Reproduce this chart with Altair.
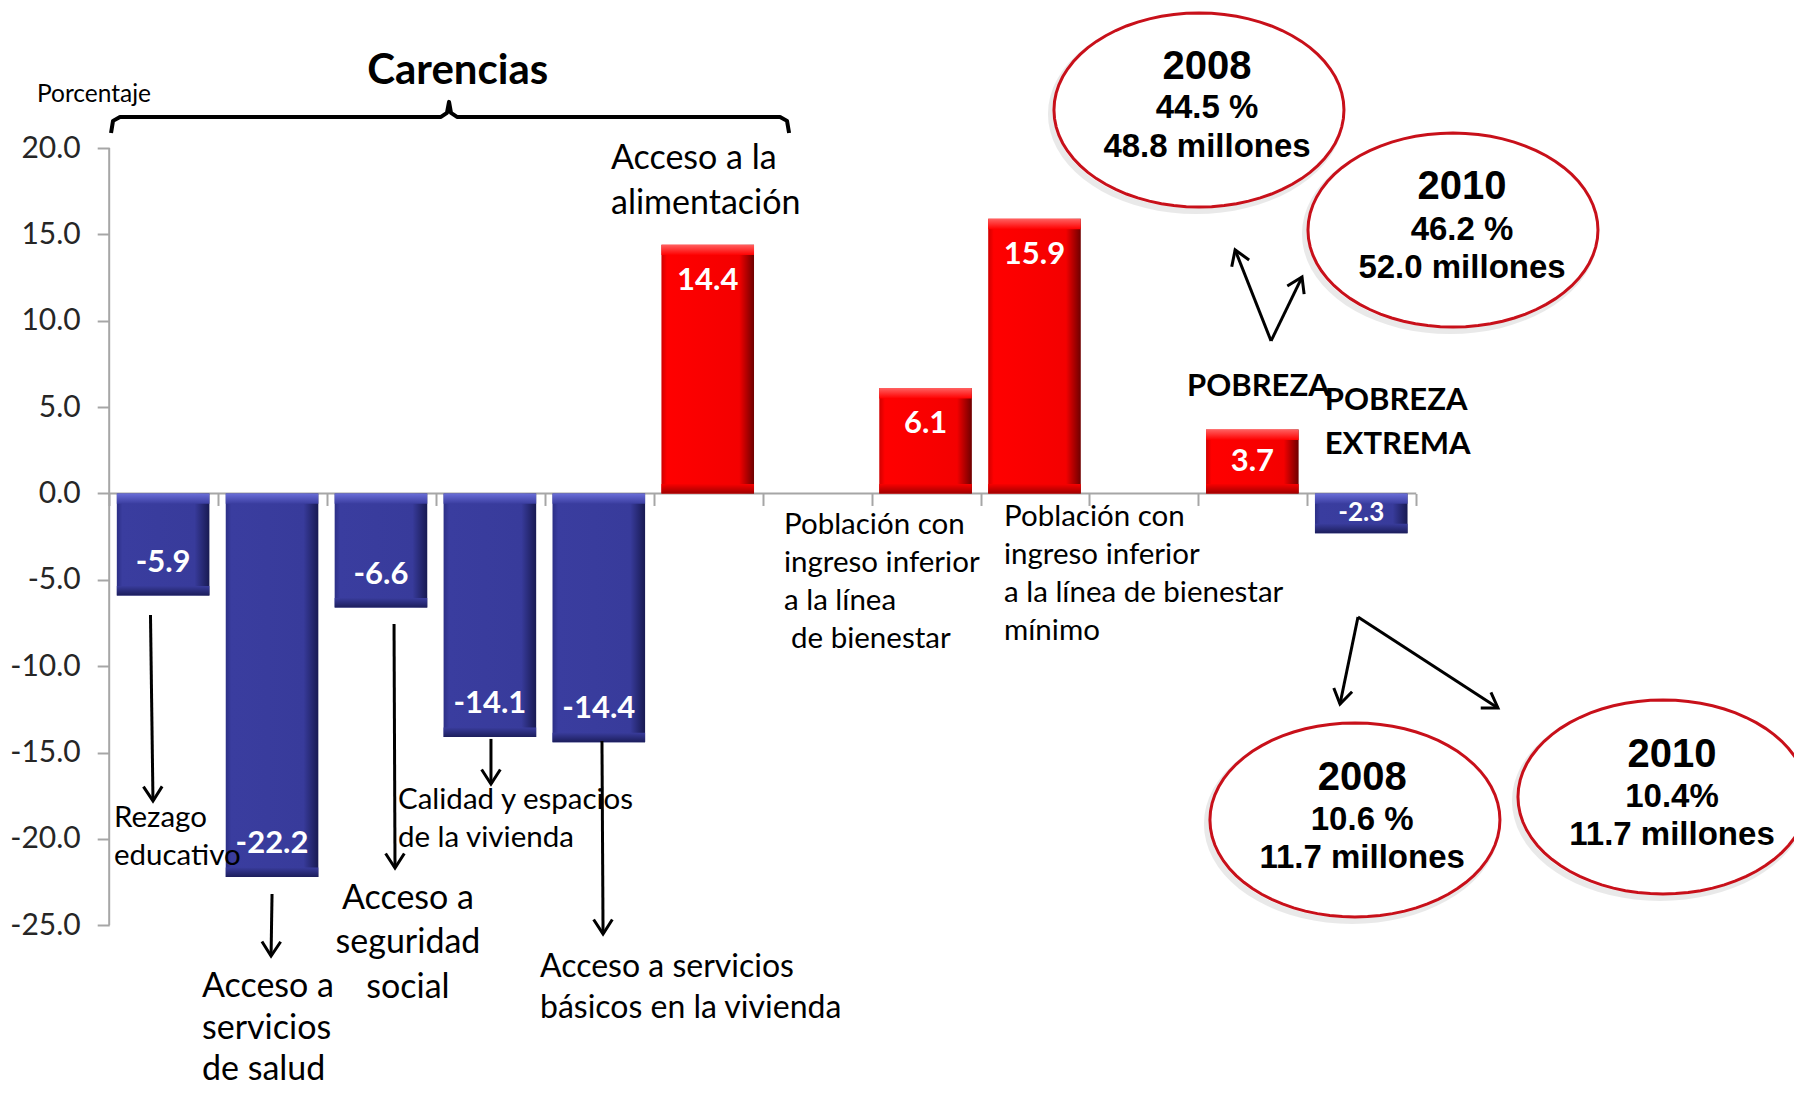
import math
import altair as alt
import pandas as pd

# ---------------- data ----------------
categories = [
    "Rezago educativo", "Acceso a servicios de salud", "Acceso a seguridad social",
    "Calidad y espacios de la vivienda", "Acceso a servicios básicos en la vivienda",
    "Acceso a la alimentación", "",
    "Población con ingreso inferior a la línea de bienestar",
    "Población con ingreso inferior a la línea de bienestar mínimo", "",
    "Pobreza", "Pobreza extrema",
]
values = [-5.9, -22.2, -6.6, -14.1, -14.4, 14.4, None, 6.1, 15.9, None, 3.7, -2.3]
y_ticks = [-25, -20, -15, -10, -5, 0, 5, 10, 15, 20]

# annotation texts (text, x in category units, y in percent units)
small_left = [
    ("Rezago", 0.044, -18.79), ("educativo", 0.044, -20.99),
    ("Calidad y espacios", 2.651, -17.74), ("de la vivienda", 2.651, -19.94),
    ("Población con", 6.195, -1.82), ("ingreso inferior", 6.195, -4.02),
    ("a la línea", 6.195, -6.22), ("de bienestar", 6.26, -8.42),
    ("Población con", 8.215, -1.36), ("ingreso inferior", 8.215, -3.56),
    ("a la línea de bienestar", 8.215, -5.76), ("mínimo", 8.215, -7.96),
]
big_left = [
    ("Acceso a", 0.852, -28.55), ("servicios", 0.852, -31.0), ("de salud", 0.852, -33.38),
    ("Acceso a la", 4.607, 19.35), ("alimentación", 4.607, 16.75),
]
mid_left = [("Acceso a servicios", 3.955, -27.41), ("básicos en la vivienda", 3.955, -29.79)]
big_center = [("Acceso a", 2.743, -23.48), ("seguridad", 2.743, -26.02), ("social", 2.743, -28.63)]
bold_left = [("POBREZA", 9.895, 6.17), ("POBREZA", 11.16, 5.36), ("EXTREMA", 11.16, 2.81)]
title_text = [("Carencias", 3.20, 24.46)]
unit_text = [("Porcentaje", -0.663, 23.07)]

ellipse_centers = [(10.005, 22.20), (12.337, 15.25), (11.437, -18.90), (14.265, -17.57)]
ellipse_years = [("2008", 10.079, 24.69), ("2010", 12.420, 17.74), ("2008", 11.503, -16.47), ("2010", 14.348, -15.14)]
ellipse_lines = [
    ("44.5 %", 10.079, 22.32), ("48.8 millones", 10.079, 20.06),
    ("46.2 %", 12.420, 15.25), ("52.0 millones", 12.420, 13.06),
    ("10.6 %", 11.503, -18.90), ("11.7 millones", 11.503, -21.10),
    ("10.4%", 14.348, -17.57), ("11.7 millones", 14.348, -19.77),
]

arrows = [  # x, y, x2, y2 (head at x2, y2)
    (0.379, -7.03, 0.402, -17.80),
    (1.495, -23.19, 1.486, -26.78),
    (2.615, -7.56, 2.624, -21.68),
    (3.505, -14.21, 3.505, -16.82),
    (4.524, -14.33, 4.534, -25.50),
    (10.667, 8.83, 10.337, 14.10),
    (10.667, 8.83, 10.951, 12.53),
    (11.465, -7.15, 11.300, -12.19),
    (11.465, -7.15, 12.750, -12.42),
]
brace_x = [0.017, 0.035, 0.099, 3.046, 3.101, 3.120, 3.138, 3.193, 6.159, 6.223, 6.242]
brace_y = [20.87, 21.57, 21.80, 21.80, 22.03, 22.67, 22.03, 21.80, 21.80, 21.57, 20.87]

# ---------------- layout ----------------
W, H = 1786, 1078
XMIN, XMAX = -0.9291, 15.468
YMAX = 28.105
PXY = 777.3 / 45.0
YMIN = YMAX - H / PXY
PXX = W / (XMAX - XMIN)

SX = alt.Scale(domain=[XMIN, XMAX], nice=False, zero=False)
SY = alt.Scale(domain=[YMIN, YMAX], nice=False, zero=False)
XAX = alt.Axis(values=list(range(13)), labels=False, domain=False, grid=False,
               tickSize=12, tickWidth=2, tickColor="#a6a6a6",
               offset=-(0 - YMIN) * PXY, title=None)
YAX = alt.Axis(values=y_ticks, format=".1f", labelExpr="replace(datum.label, '\u2212', '-')",
               domain=False, grid=False,
               tickSize=12, tickWidth=2, tickColor="#a6a6a6",
               offset=-(0 - XMIN) * PXX, labelFont="Lato", labelFontSize=30,
               labelColor="#262626", labelPadding=17, title=None)


def X(f):
    return alt.X(f, type="quantitative", scale=SX, axis=XAX)


def Y(f):
    return alt.Y(f, type="quantitative", scale=SY, axis=YAX)


def hgrad(c0, c1, c2, c3):
    return alt.Gradient(gradient="linear", x1=0, x2=1, y1=0, y2=0, stops=[
        alt.GradientStop(offset=0, color=c0), alt.GradientStop(offset=0.06, color=c1),
        alt.GradientStop(offset=0.84, color=c2), alt.GradientStop(offset=1, color=c3)])


def vgrad(c_top, c_bot):
    return alt.Gradient(gradient="linear", x1=0, x2=0, y1=0, y2=1, stops=[
        alt.GradientStop(offset=0, color=c_top), alt.GradientStop(offset=1, color=c_bot)])


bars = pd.DataFrame({"idx": range(len(values)), "category": categories, "value": values}).dropna()
bars["x0"] = bars["idx"] + 0.07
bars["x1"] = bars["idx"] + 0.92
bars["xc"] = bars["idx"] + 0.495

base = alt.Chart(bars).transform_calculate(zero="0")
neg = base.transform_filter("datum.value < 0")
pos = base.transform_filter("datum.value > 0")

blue = neg.mark_rect(color=hgrad("#2c2f86", "#3a3d9f", "#383b9b", "#181a52")).encode(
    x=X("x0"), x2="x1", y=Y("value"), y2="zero:Q")
red = pos.mark_rect(color=hgrad("#d00000", "#ff0000", "#f40000", "#6e0000")).encode(
    x=X("x0"), x2="x1", y=Y("value"), y2="zero:Q")

blue_top = neg.transform_calculate(tb="-0.6").mark_rect(color=vgrad("#6a6ed8", "#3a3d9f")).encode(
    x=X("x0"), x2="x1", y=Y("zero"), y2="tb:Q")
blue_bot = neg.transform_calculate(bb="datum.value + 0.55").mark_rect(color=vgrad("#393c9c", "#1c1e5c")).encode(
    x=X("x0"), x2="x1", y=Y("bb"), y2="value:Q")
red_top = pos.transform_calculate(tb="datum.value - 0.6").mark_rect(color=vgrad("#ff6060", "#ff0000")).encode(
    x=X("x0"), x2="x1", y=Y("value"), y2="tb:Q")
red_bot = pos.transform_calculate(bb="0.55").mark_rect(color=vgrad("#f80000", "#a00000")).encode(
    x=X("x0"), x2="x1", y=Y("bb"), y2="zero:Q")

vlabels = base.transform_calculate(
    ly="datum.value > 0 ? max(datum.value - 2.1, datum.value / 2) : min(datum.value + 1.9, datum.value / 2)",
    lab="replace(format(datum.value, '.1f'), '\u2212', '-')",
).mark_text(font="Lato", fontWeight="bold", color="white", align="center", baseline="middle").encode(
    x=X("xc"), y=Y("ly"), text="lab:N",
    size=alt.condition("abs(datum.value) < 3", alt.value(26), alt.value(31)))

# axis lines
axis_df = pd.DataFrame({"x": [0, 0], "y": [-25, 0], "x2": [0, 12], "y2": [20, 0]})
axis_lines = alt.Chart(axis_df).mark_rule(color="#a6a6a6", strokeWidth=2).encode(
    x=X("x"), y=Y("y"), x2="x2", y2="y2")

# arrows
arr = pd.DataFrame(arrows, columns=["x", "y", "x2", "y2"])
arr["angle"] = [
    (math.degrees(math.atan2((r.x2 - r.x) * PXX, (r.y2 - r.y) * PXY)) + 360) % 360
    for r in arr.itertuples()
]
arrow_lines = alt.Chart(arr).mark_rule(color="black", strokeWidth=3).encode(
    x=X("x"), y=Y("y"), x2="x2", y2="y2")
HEAD = "M -0.55 0.85 L 0 0 L 0.55 0.85"
arrow_heads = alt.Chart(arr).mark_point(shape=HEAD, filled=False, stroke="black", strokeWidth=3,
                                        size=1156, opacity=1).encode(
    x=X("x2"), y=Y("y2"), angle=alt.Angle("angle:Q", scale=None))

# brace
brace_df = pd.DataFrame({"x": brace_x, "y": brace_y, "o": range(len(brace_x))})
brace = alt.Chart(brace_df).mark_line(color="black", strokeWidth=4, strokeJoin="round").encode(
    x=X("x"), y=Y("y"), order="o:Q")

# ellipses
pts = []
for k in range(73):
    t = 2 * math.pi * k / 72
    pts.append(f"{math.cos(t):.4f} {0.669 * math.sin(t):.4f}")
ELL = "M " + " L ".join(pts) + " Z"
ell_df = pd.DataFrame(ellipse_centers, columns=["x", "y"])
ell_shadow = alt.Chart(ell_df).mark_point(shape=ELL, filled=False, stroke="#b8b8b8", strokeWidth=6,
                                          opacity=0.3, size=84100, xOffset=-3, yOffset=4).encode(
    x=X("x"), y=Y("y"))
ell = alt.Chart(ell_df).mark_point(shape=ELL, fill="white", stroke="#c8101a", strokeWidth=3,
                                   opacity=1, fillOpacity=1, size=84100).encode(x=X("x"), y=Y("y"))


def text_layer(rows, **mk):
    df = pd.DataFrame(rows, columns=["t", "x", "y"])
    return alt.Chart(df).mark_text(baseline="middle", color="black", **mk).encode(
        x=X("x"), y=Y("y"), text="t:N")


layers = [
    axis_lines, blue, red, blue_top, blue_bot, red_top, red_bot, vlabels,
    brace, arrow_lines, arrow_heads, ell_shadow, ell,
    text_layer(small_left, font="Lato", fontSize=29.5, align="left"),
    text_layer(big_left, font="Lato", fontSize=34, align="left"),
    text_layer(mid_left, font="Lato", fontSize=32, align="left"),
    text_layer(big_center, font="Lato", fontSize=34, align="center"),
    text_layer(bold_left, font="Lato", fontSize=31, fontWeight="bold", align="left"),
    text_layer(title_text, font="Lato", fontSize=42, fontWeight="bold", align="center"),
    text_layer(unit_text, font="Lato", fontSize=24.5, align="left"),
    text_layer(ellipse_years, font="Liberation Sans", fontSize=40, fontWeight="bold", align="center"),
    text_layer(ellipse_lines, font="Liberation Sans", fontSize=33, fontWeight="bold", align="center"),
]

chart = alt.layer(*layers).properties(
    width=W, height=H, padding=0, background="white",
    autosize=alt.AutoSizeParams(type="none"),
).configure_view(stroke=None)

chart.save("out.html", embed_options={"renderer": "svg", "actions": False})
